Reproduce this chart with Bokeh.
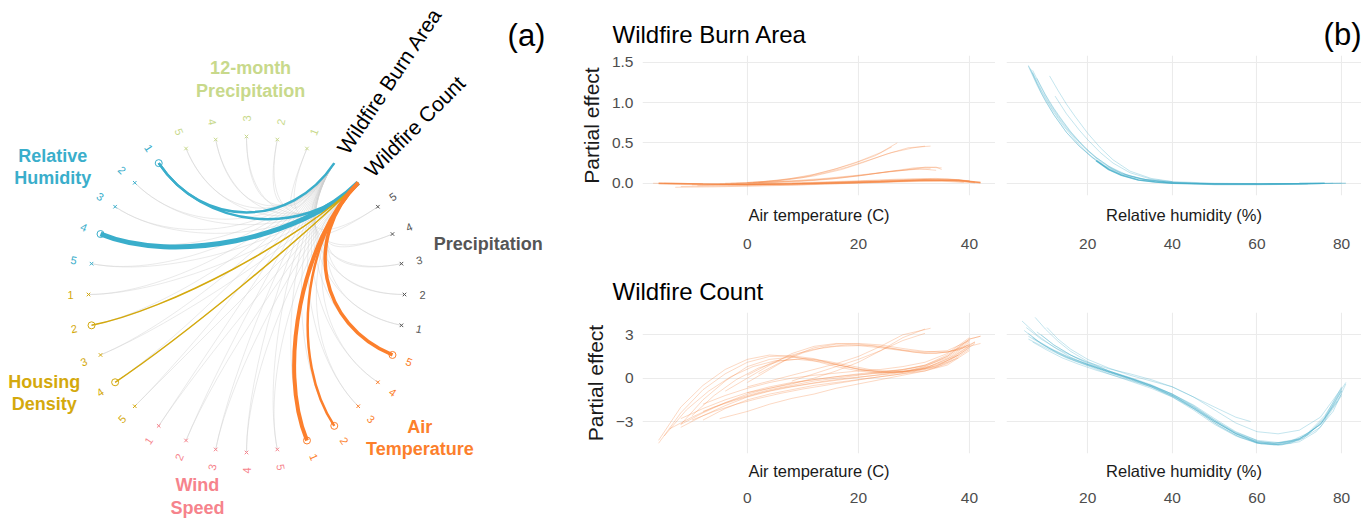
import math
from bokeh.plotting import figure
from bokeh.layouts import row, column
from bokeh.models import (Range1d, LinearAxis, FixedTicker, Label, ColumnDataSource,
                          NumeralTickFormatter)
from bokeh.embed import file_html
from bokeh.resources import INLINE
from bokeh.core.properties import value

FONT = "Liberation Sans"

# ---------------- data: panel (a) ----------------
GROUP_NAMES = ["12-month\nPrecipitation", "Relative\nHumidity", "Housing\nDensity",
               "Wind\nSpeed", "Air\nTemperature", "Precipitation"]
GROUP_COLORS = ["#c8d98b", "#3aaecb", "#d4a90d", "#f6838c", "#fc7f2c", "#555555"]
LEVELS = [1, 2, 3, 4, 5]
TARGET_NAMES = ["Wildfire Count", "Wildfire Burn Area"]
LINK_GROUP = [1, 1, 1, 2, 2, 4, 4, 4]
LINK_LEVEL = [1, 1, 4, 2, 4, 1, 2, 5]
LINK_TARGET = [1, 0, 0, 0, 0, 0, 0, 0]
LINK_STRENGTH = [2.5, 2.5, 5.0, 1.5, 1.5, 4.0, 2.5, 3.5]

# ---------------- data: panel (b) ----------------
BURN_TEMP = [
    ([-17, -10, -3, 4, 11, 18, 25, 32, 37, 42], [0.0, -0.01, -0.02, -0.015, -0.005, 0.01, 0.025, 0.04, 0.035, 0.0]),
    ([-12, -5, 2, 9, 16, 23, 30, 36, 41], [-0.04, -0.035, -0.03, -0.02, -0.005, 0.01, 0.03, 0.03, 0.005]),
    ([-15, -8, -1, 6, 13, 20, 27, 34, 40], [0.0, -0.005, -0.01, 0.0, 0.015, 0.03, 0.05, 0.06, 0.03]),
    ([-9, -2, 5, 12, 19, 26, 33, 38, 41], [-0.03, -0.02, -0.01, 0.005, 0.02, 0.035, 0.05, 0.04, 0.015]),
    ([-16, -8, 0, 8, 16, 24, 32, 38, 42], [-0.01, -0.02, -0.02, -0.01, 0.0, 0.015, 0.03, 0.03, 0.01]),
    ([-10, -2, 6, 14, 22, 30, 36, 40], [-0.02, -0.015, -0.005, 0.01, 0.03, 0.05, 0.055, 0.03]),
    ([-13, -6, 1, 8, 15, 22, 29, 35, 39], [-0.05, -0.045, -0.035, -0.025, -0.01, 0.005, 0.02, 0.025, 0.01]),
    ([-5, 2, 9, 15, 20, 25, 30, 34, 35], [-0.01, 0.0, 0.02, 0.05, 0.09, 0.14, 0.19, 0.2, 0.17]),
    ([-3, 4, 10, 16, 21, 26, 31, 34], [0.0, 0.01, 0.03, 0.06, 0.1, 0.15, 0.18, 0.16]),
    ([0, 6, 12, 18, 23, 28, 32, 35], [0.0, 0.02, 0.04, 0.08, 0.12, 0.16, 0.2, 0.19]),
    ([2, 8, 14, 20, 25, 30, 33], [0.01, 0.03, 0.06, 0.1, 0.14, 0.17, 0.18]),
    ([-4, 2, 7, 12, 17, 21, 25, 29, 33], [0.0, 0.01, 0.04, 0.09, 0.17, 0.26, 0.36, 0.44, 0.46]),
    ([-2, 3, 8, 12, 16, 20, 24, 27], [0.0, 0.02, 0.06, 0.11, 0.18, 0.27, 0.38, 0.5]),
    ([0, 5, 10, 14, 18, 22, 26, 30, 32], [0.01, 0.03, 0.07, 0.13, 0.2, 0.29, 0.38, 0.44, 0.46]),
    ([1, 6, 11, 15, 19, 23, 26], [0.01, 0.04, 0.09, 0.16, 0.24, 0.34, 0.45]),
]
BURN_TEMP_CORE = [
    ([-16, -8, 0, 8, 16, 24, 32, 38, 42], [0.0, -0.01, -0.015, -0.01, 0.005, 0.02, 0.04, 0.035, 0.01]),
]
BURN_RH = [
    ([6, 8, 10, 12, 14, 16, 18, 20, 22, 25, 28, 32, 36, 40, 50, 60, 70, 81],
     [1.46, 1.24, 1.05, 0.88, 0.73, 0.6, 0.48, 0.37, 0.28, 0.17, 0.1, 0.04, 0.015, 0.0, -0.01, -0.01, -0.005, 0.0]),
    ([7, 9, 11, 13, 15, 17, 20, 23, 26, 30, 35, 40, 50, 60, 70, 78],
     [1.37, 1.16, 0.98, 0.82, 0.68, 0.56, 0.4, 0.27, 0.17, 0.09, 0.03, 0.0, -0.015, -0.015, -0.01, 0.0]),
    ([6.5, 9, 12, 15, 18, 21, 24, 28, 33, 40, 50, 62, 75],
     [1.42, 1.12, 0.85, 0.63, 0.46, 0.33, 0.22, 0.12, 0.05, 0.01, -0.005, -0.01, -0.005]),
    ([11, 13, 15, 17, 20, 23, 26, 30, 35, 40, 50, 60],
     [1.33, 1.15, 0.98, 0.83, 0.62, 0.44, 0.29, 0.15, 0.06, 0.02, 0.0, -0.005]),
    ([12.3, 15, 18, 20, 23, 26, 30, 35, 40],
     [1.08, 0.86, 0.66, 0.54, 0.38, 0.25, 0.13, 0.05, 0.02]),
    ([8, 10, 12, 14, 16, 18, 20, 22, 25, 28, 32, 38, 45, 55, 68, 80],
     [1.3, 1.1, 0.93, 0.78, 0.64, 0.52, 0.41, 0.32, 0.21, 0.12, 0.06, 0.02, 0.0, -0.01, -0.005, 0.0]),
    ([6, 8, 10, 12, 15, 18, 21, 24, 28, 33, 40, 50, 65, 81],
     [1.45, 1.22, 1.02, 0.85, 0.63, 0.46, 0.32, 0.21, 0.11, 0.05, 0.01, -0.01, -0.01, 0.0]),
    ([7, 9, 11, 13, 16, 19, 22, 25, 29, 34, 40, 50, 60, 72],
     [1.4, 1.19, 1.0, 0.84, 0.63, 0.46, 0.32, 0.21, 0.11, 0.04, 0.01, -0.02, -0.02, -0.01]),
]
BURN_RH_CORE = [
    ([22, 25, 28, 32, 36, 40, 50, 60, 70, 76],
     [0.28, 0.17, 0.1, 0.04, 0.015, 0.0, -0.01, -0.01, -0.005, 0.0]),
]
COUNT_TEMP = [
    ([-16, -12, -8, -4, 0, 4, 8, 12, 16, 20, 24, 28, 32, 36, 40], [-4.5, -2.4, -0.8, 0.3, 1.1, 1.5, 1.55, 1.35, 0.95, 0.6, 0.4, 0.4, 0.7, 1.3, 2.4]),
    ([-16, -12, -8, -4, 0, 4, 8, 12, 16, 20, 24, 28, 32, 36, 40], [-4.3, -2.0, -0.5, 0.6, 1.3, 1.6, 1.5, 1.2, 0.8, 0.5, 0.35, 0.45, 0.8, 1.5, 2.6]),
    ([-12, -8, -4, 0, 4, 8, 12, 16, 20, 24, 28, 32, 36, 40, 42], [-3.2, -1.5, -0.2, 0.8, 1.3, 1.45, 1.3, 0.95, 0.65, 0.45, 0.55, 0.9, 1.6, 2.7, 2.9]),
    ([-15, -11, -7, -3, 1, 5, 9, 13, 17, 21, 25, 29, 33, 37, 41], [-4.0, -2.2, -0.9, 0.1, 0.8, 1.2, 1.3, 1.15, 0.85, 0.55, 0.4, 0.5, 0.85, 1.5, 2.5]),
    ([-10, -6, -2, 2, 6, 10, 14, 18, 22, 26, 30, 34, 38], [-2.6, -1.2, -0.1, 0.7, 1.2, 1.35, 1.2, 0.9, 0.6, 0.45, 0.5, 0.85, 1.6]),
    ([0, 4, 8, 12, 16, 20, 24, 28, 32, 36, 40], [-0.3, 0.6, 1.5, 2.1, 2.35, 2.4, 2.3, 2.05, 1.85, 1.8, 2.3]),
    ([-4, 0, 4, 8, 12, 16, 20, 24, 28, 32, 36, 40], [-0.9, 0.0, 0.9, 1.7, 2.2, 2.4, 2.35, 2.2, 1.95, 1.8, 1.9, 2.6]),
    ([0, 4, 8, 12, 16, 20, 24, 28, 32, 36, 40, 42], [0.2, 1.0, 1.6, 2.0, 2.2, 2.25, 2.1, 1.9, 1.7, 1.8, 2.2, 2.4]),
    ([2, 6, 10, 14, 18, 22, 26, 30, 34, 38, 41], [0.3, 1.1, 1.75, 2.15, 2.3, 2.25, 2.05, 1.8, 1.7, 1.95, 2.5]),
    ([-12, -8, -4, 0, 4, 8, 12, 16, 20, 24, 28, 32, 36, 40], [-3.4, -2.6, -1.9, -1.3, -0.9, -0.6, -0.35, -0.15, 0.05, 0.25, 0.45, 0.7, 1.2, 2.2]),
    ([-8, -4, 0, 4, 8, 12, 16, 20, 24, 28, 32, 36, 40], [-2.9, -2.1, -1.5, -1.1, -0.8, -0.5, -0.3, -0.1, 0.1, 0.3, 0.5, 0.9, 1.9]),
    ([-12, -8, -4, 0, 4, 8, 12, 16, 20, 24, 28, 32, 36, 40], [-2.8, -2.1, -1.5, -1.0, -0.6, -0.3, -0.1, 0.1, 0.3, 0.45, 0.6, 0.85, 1.4, 2.5]),
    ([-8, -4, 0, 4, 8, 12, 16, 20, 24, 28, 32, 36, 40, 42], [-2.3, -1.7, -1.2, -0.8, -0.5, -0.2, 0.0, 0.2, 0.4, 0.6, 0.9, 1.5, 2.7, 2.9]),
    ([-5, 0, 4, 8, 12, 16, 20, 24, 28, 32, 36, 40], [-2.8, -2.3, -1.8, -1.4, -1.1, -0.7, -0.4, -0.1, 0.2, 0.5, 1.0, 2.0]),
    ([-12, -8, -4, 0, 4, 8, 12, 16, 20, 24, 28, 32, 36, 40], [-3.2, -2.4, -1.7, -1.1, -0.7, -0.35, -0.1, 0.1, 0.25, 0.35, 0.45, 0.65, 1.1, 2.1]),
    ([-8, -4, 0, 4, 8, 12, 16, 20, 24, 28, 32, 36, 40], [-1.8, -1.2, -0.7, -0.3, 0.0, 0.2, 0.35, 0.5, 0.6, 0.8, 1.1, 1.7, 2.8]),
    ([-14, -10, -6, -2, 2, 6, 10, 14, 18, 22, 26, 30, 34, 38, 41], [-3.5, -2.7, -2.0, -1.5, -1.05, -0.7, -0.45, -0.2, 0.0, 0.15, 0.3, 0.5, 0.8, 1.6, 2.4]),
    ([-10, -6, -2, 2, 6, 10, 14, 18, 22, 26, 30, 34, 38], [-2.9, -2.3, -1.8, -1.4, -1.05, -0.75, -0.5, -0.25, 0.0, 0.2, 0.45, 0.75, 1.4]),
    ([0, 4, 8, 12, 16, 20, 24, 28, 32], [-1.0, -0.7, -0.4, 0.0, 0.5, 1.1, 1.9, 2.8, 3.4]),
    ([0, 4, 8, 12, 16, 20, 24, 28, 33], [-0.6, -0.2, 0.2, 0.6, 1.0, 1.5, 2.2, 3.0, 3.45]),
    ([8, 12, 16, 20, 24, 28, 32], [-0.2, 0.3, 0.8, 1.3, 1.9, 2.6, 3.1]),
]
COUNT_RH = [
    ([6, 10, 15, 20, 25, 30, 35, 40, 45, 50, 55, 60, 64, 68, 72, 76, 81],
     [2.7, 2.1, 1.4, 0.85, 0.3, -0.2, -0.7, -1.3, -2.1, -3.0, -3.8, -4.35, -4.5, -4.35, -3.8, -2.6, -0.3]),
    ([4.5, 8, 12, 16, 20, 25, 30, 35, 40, 45, 50, 55, 60, 64, 68, 72, 76, 80],
     [3.95, 3.0, 2.15, 1.45, 0.95, 0.45, 0.0, -0.5, -1.1, -1.9, -2.9, -3.8, -4.45, -4.6, -4.5, -3.9, -2.7, -0.6]),
    ([7.6, 10, 13, 16, 20, 25, 30, 35, 40, 45, 50, 55, 60, 65, 70, 75, 79],
     [4.2, 3.4, 2.55, 1.85, 1.15, 0.5, 0.0, -0.5, -1.1, -1.85, -2.8, -3.7, -4.3, -4.45, -4.2, -3.2, -1.6]),
    ([10.4, 13, 16, 20, 25, 30, 35, 40, 45, 50, 55, 58.5],
     [3.5, 2.7, 2.0, 1.3, 0.7, 0.2, -0.2, -0.6, -1.3, -2.0, -2.7, -3.0]),
    ([5, 8, 12, 16, 20, 25, 30, 35, 40, 45, 50, 55, 60, 65, 70, 74, 78, 81],
     [3.3, 2.6, 1.95, 1.4, 0.95, 0.45, 0.0, -0.5, -1.15, -2.0, -2.95, -3.85, -4.5, -4.65, -4.4, -3.7, -2.3, -0.4]),
    ([6, 9, 13, 17, 20, 25, 30, 35, 40, 45, 50, 55, 60, 65, 70, 75, 80],
     [3.1, 2.4, 1.7, 1.2, 0.9, 0.4, -0.05, -0.55, -1.2, -2.05, -3.0, -3.85, -4.4, -4.5, -4.2, -3.2, -1.1]),
    ([7, 10, 14, 18, 22, 26, 30, 35, 40, 45, 50, 55, 60, 64, 68, 72, 76, 80],
     [2.5, 2.0, 1.4, 0.95, 0.55, 0.2, -0.15, -0.6, -1.2, -2.0, -3.0, -3.85, -4.4, -4.5, -4.4, -3.9, -2.8, -0.8]),
    ([8, 12, 16, 20, 25, 30, 35, 40, 45, 50, 55, 60, 65, 70, 75, 80],
     [3.2, 2.3, 1.6, 1.1, 0.65, 0.3, -0.1, -0.6, -1.3, -2.2, -3.1, -3.7, -3.85, -3.6, -2.7, -0.7]),
    ([6, 10, 15, 20, 25, 30, 35, 40, 45, 50, 55, 60, 65, 70, 75, 80],
     [2.9, 2.2, 1.5, 0.95, 0.45, -0.05, -0.6, -1.3, -2.2, -3.2, -4.0, -4.5, -4.55, -4.25, -3.2, -0.9]),
    ([9, 12, 16, 20, 25, 30, 35, 40, 45, 50, 55, 60],
     [3.0, 2.3, 1.6, 1.0, 0.5, 0.05, -0.45, -1.1, -1.95, -2.9, -3.75, -4.3]),
    ([7, 11, 15, 20, 25, 30, 35, 40, 45, 50, 55, 60, 65, 70, 75, 80],
     [2.8, 2.05, 1.45, 0.9, 0.4, -0.1, -0.6, -1.25, -2.1, -3.1, -3.95, -4.45, -4.6, -4.3, -3.4, -1.2]),
    ([5.5, 9, 13, 17, 21, 26, 31, 36, 41, 46, 51, 56, 61, 66, 71, 76, 80],
     [3.5, 2.7, 2.0, 1.45, 0.95, 0.4, -0.1, -0.65, -1.35, -2.3, -3.3, -4.1, -4.55, -4.6, -4.15, -2.9, -0.9]),
]

TEMP_TICKS = [0, 20, 40]
RH_TICKS = [20, 40, 60, 80]
BURN_Y_TICKS = [0.0, 0.5, 1.0, 1.5]
COUNT_Y_TICKS = [-3, 0, 3]

# ---------------- panel (a) ----------------
R_NODE, R_LABEL, STEP, START, PULL = 158.0, 176.0, 11.25, 45.0, 0.5
A_W, A_H = 576, 521


def polar(r, deg):
    a = math.radians(deg)
    return r * math.cos(a), r * math.sin(a)


def text_rot(deg):
    return math.radians(-((-deg + 90) % 180) + 90)


pa = figure(width=A_W, height=A_H, x_range=Range1d(-246, A_W - 246),
            y_range=Range1d(294 - A_H, 294),
            output_backend="svg", toolbar_location=None, x_axis_location=None,
            y_axis_location=None, min_border=0, outline_line_color=None)
pa.grid.visible = False

tgt_xy = [polar(R_NODE, START + STEP * k) for k in range(len(TARGET_NAMES))]

nodes = dict(x=[], y=[], lx=[], ly=[], rot=[], col=[], lab=[], g=[], l=[])
for g, col in enumerate(GROUP_COLORS):
    for l in LEVELS:
        ang = START + STEP * (2 + 5 * g + (l - 1))
        x, y = polar(R_NODE, ang)
        lx, ly = polar(R_LABEL, ang)
        nodes["x"].append(x); nodes["y"].append(y)
        nodes["lx"].append(lx); nodes["ly"].append(ly)
        nodes["rot"].append(text_rot(ang)); nodes["col"].append(col)
        nodes["lab"].append(str(l)); nodes["g"].append(g); nodes["l"].append(l)

# grey background links: every level to both outcomes
bg = dict(x0=[], y0=[], x1=[], y1=[], cx0=[], cy0=[], cx1=[], cy1=[])
for x, y in zip(nodes["x"], nodes["y"]):
    for tx, ty in tgt_xy:
        bg["x0"].append(x); bg["y0"].append(y); bg["x1"].append(tx); bg["y1"].append(ty)
        bg["cx0"].append(x * (1 - PULL)); bg["cy0"].append(y * (1 - PULL))
        bg["cx1"].append(tx * (1 - PULL)); bg["cy1"].append(ty * (1 - PULL))
pa.bezier(source=ColumnDataSource(bg), x0="x0", y0="y0", x1="x1", y1="y1",
          cx0="cx0", cy0="cy0", cx1="cx1", cy1="cy1", line_color="#cfcfcf",
          line_alpha=0.55, line_width=0.8)

sig = dict(x0=[], y0=[], x1=[], y1=[], cx0=[], cy0=[], cx1=[], cy1=[], w=[], c=[])
sig_nodes = set()
for g, l, t, s in zip(LINK_GROUP, LINK_LEVEL, LINK_TARGET, LINK_STRENGTH):
    i = 5 * g + (l - 1)
    sig_nodes.add(i)
    x, y = nodes["x"][i], nodes["y"][i]
    tx, ty = tgt_xy[t]
    sig["x0"].append(x); sig["y0"].append(y); sig["x1"].append(tx); sig["y1"].append(ty)
    sig["cx0"].append(x * (1 - PULL)); sig["cy0"].append(y * (1 - PULL))
    sig["cx1"].append(tx * (1 - PULL)); sig["cy1"].append(ty * (1 - PULL))
    sig["w"].append(s); sig["c"].append(GROUP_COLORS[g])
pa.bezier(source=ColumnDataSource(sig), x0="x0", y0="y0", x1="x1", y1="y1",
          cx0="cx0", cy0="cy0", cx1="cx1", cy1="cy1", line_color="c", line_width="w")

marker = ["circle" if i in sig_nodes else "x" for i in range(len(nodes["x"]))]
size = [7 if i in sig_nodes else 5 for i in range(len(nodes["x"]))]
nsrc = ColumnDataSource(dict(nodes, marker=marker, size=size))
pa.scatter("x", "y", source=nsrc, marker="marker", size="size", line_color="col",
           fill_color=None, line_width=1)
pa.text("lx", "ly", text="lab", angle="rot", source=nsrc, text_color="col",
        text_align="center", text_baseline="middle", text_font=value(FONT),
        text_font_size="11px")

# outcome labels
tl = dict(x=[], y=[], a=[], t=[])
for k, name in enumerate(TARGET_NAMES):
    ang = START + STEP * k
    x, y = polar(R_NODE + 14, ang)
    tl["x"].append(x); tl["y"].append(y); tl["a"].append(math.radians(ang)); tl["t"].append(name)
pa.text("x", "y", text="t", angle="a", source=ColumnDataSource(tl), text_align="left",
        text_baseline="middle", text_font=value(FONT), text_font_size="21px",
        text_color="black")

# group labels
G_LABEL_R = [215, 232, 225, 208, 225, 247]
G_LABEL_DA = [-1.1, 0.4, 3.5, -2.4, 5.4, 0.6]
gl = dict(x=[], y=[], t=[], c=[])
for g, name in enumerate(GROUP_NAMES):
    ang = START + STEP * (4 + 5 * g) + G_LABEL_DA[g]
    x, y = polar(G_LABEL_R[g], ang)
    gl["x"].append(x); gl["y"].append(y); gl["t"].append(name); gl["c"].append(GROUP_COLORS[g])
pa.text("x", "y", text="t", source=ColumnDataSource(gl), text_color="c", text_align="center",
        text_baseline="middle", text_font=value(FONT), text_font_size="18px",
        text_font_style="bold", text_line_height=1.12)

pa.add_layout(Label(x=280, y=259, text="(a)", text_align="center", text_baseline="middle",
                    text_font=FONT, text_font_size="31px", text_color="black"))


# ---------------- panel (b) ----------------
def make_panel(curves, color, alpha, x_rng, y_rng, x_ticks, y_ticks, x_label, show_y,
               fw, fh, bl, bt, bb, lab_so, tick_so, title="", title_align="left",
               title_size="24px", title_offset=0, title_standoff=15, y_formatter=None,
               y_over=None, core=None):
    p = figure(frame_width=fw, frame_height=fh, x_range=Range1d(*x_rng), y_range=Range1d(*y_rng),
               output_backend="svg", toolbar_location=None, x_axis_location=None,
               y_axis_location=("left" if show_y else None), min_border_left=bl,
               min_border_right=0, min_border_top=bt, min_border_bottom=bb,
               outline_line_color=None, title=title)
    p.title.align = title_align
    p.title.text_font = FONT
    p.title.text_font_size = title_size
    p.title.text_font_style = "normal"
    p.title.text_color = "black"
    p.title.offset = title_offset
    p.title.standoff = title_standoff
    p.xgrid.ticker = FixedTicker(ticks=x_ticks)
    p.ygrid.ticker = FixedTicker(ticks=y_ticks)
    p.grid.grid_line_color = "#ebebeb"
    p.grid.grid_line_width = 1.1
    p.multi_line([c[0] for c in curves], [c[1] for c in curves], line_color=color,
                 line_alpha=alpha, line_width=1)
    if core:
        p.multi_line([c[0] for c in core], [c[1] for c in core], line_color=color,
                     line_alpha=0.75, line_width=1.6)
    ax_lab = LinearAxis(ticker=FixedTicker(ticks=[]), axis_label=x_label, axis_line_color=None,
                        major_tick_line_color=None, minor_tick_line_color=None,
                        major_tick_out=0, minor_tick_out=0, major_label_text_font_size="0px",
                        major_label_standoff=0, axis_label_standoff=lab_so,
                        axis_label_text_font=FONT, axis_label_text_font_size="16.5px",
                        axis_label_text_font_style="normal", axis_label_text_color="#1a1a1a")
    p.add_layout(ax_lab, "below")
    ax_tk = LinearAxis(ticker=FixedTicker(ticks=x_ticks), axis_line_color=None,
                       major_tick_line_color=None, minor_tick_line_color=None,
                       major_tick_out=0, minor_tick_out=0, major_label_standoff=tick_so,
                       major_label_text_font=FONT, major_label_text_font_size="15.5px",
                       major_label_text_color="#4d4d4d")
    p.add_layout(ax_tk, "below")
    if show_y:
        ya = p.yaxis[0]
        ya.ticker = FixedTicker(ticks=y_ticks)
        if y_formatter is not None:
            ya.formatter = y_formatter
        if y_over is not None:
            ya.major_label_overrides = y_over
        ya.axis_line_color = None
        ya.major_tick_line_color = None
        ya.minor_tick_line_color = None
        ya.major_tick_out = 0
        ya.minor_tick_out = 0
        ya.major_label_standoff = 9
        ya.major_label_text_font = FONT
        ya.major_label_text_font_size = "15.5px"
        ya.major_label_text_color = "#4d4d4d"
        ya.axis_label = "Partial effect"
        ya.axis_label_standoff = 6
        ya.axis_label_text_font = FONT
        ya.axis_label_text_font_size = "21px"
        ya.axis_label_text_font_style = "normal"
        ya.axis_label_text_color = "#1a1a1a"
    return p


ORANGE = "#f5803a"
TEAL = "#3aa9c6"
TEMP_RANGE = (-18.9, 44.7)
RH_RANGE = (0.83, 84.7)
BL = 642 - A_W

p1 = make_panel(BURN_TEMP, ORANGE, 0.3, TEMP_RANGE, (-0.152, 1.583), TEMP_TICKS, BURN_Y_TICKS,
                "Air temperature (C)", True, 353, 140, BL, 55, 70, 10, 12,
                title="Wildfire Burn Area", title_offset=-30,
                y_formatter=NumeralTickFormatter(format="0.0"), core=BURN_TEMP_CORE)
p2 = make_panel(BURN_RH, TEAL, 0.3, RH_RANGE, (-0.152, 1.583), RH_TICKS, BURN_Y_TICKS,
                "Relative humidity (%)", False, 355, 140, 11, 55, 70, 10, 12, title="(b)",
                title_align="right", title_size="31px", title_standoff=8, core=BURN_RH_CORE)
p3 = make_panel(COUNT_TEMP, ORANGE, 0.3, TEMP_RANGE, (-5.21, 4.54), TEMP_TICKS, COUNT_Y_TICKS,
                "Air temperature (C)", True, 353, 141, BL, 47, 68, 8, 10,
                title="Wildfire Count", title_offset=-30, y_over={-3: "\u22123"})
p4 = make_panel(COUNT_RH, TEAL, 0.3, RH_RANGE, (-5.21, 4.54), RH_TICKS, COUNT_Y_TICKS,
                "Relative humidity (%)", False, 355, 141, 11, 47, 68, 8, 10)

layout = row(pa, column(row(p1, p2), row(p3, p4)))
open("out.html", "w").write(file_html(layout, INLINE))
